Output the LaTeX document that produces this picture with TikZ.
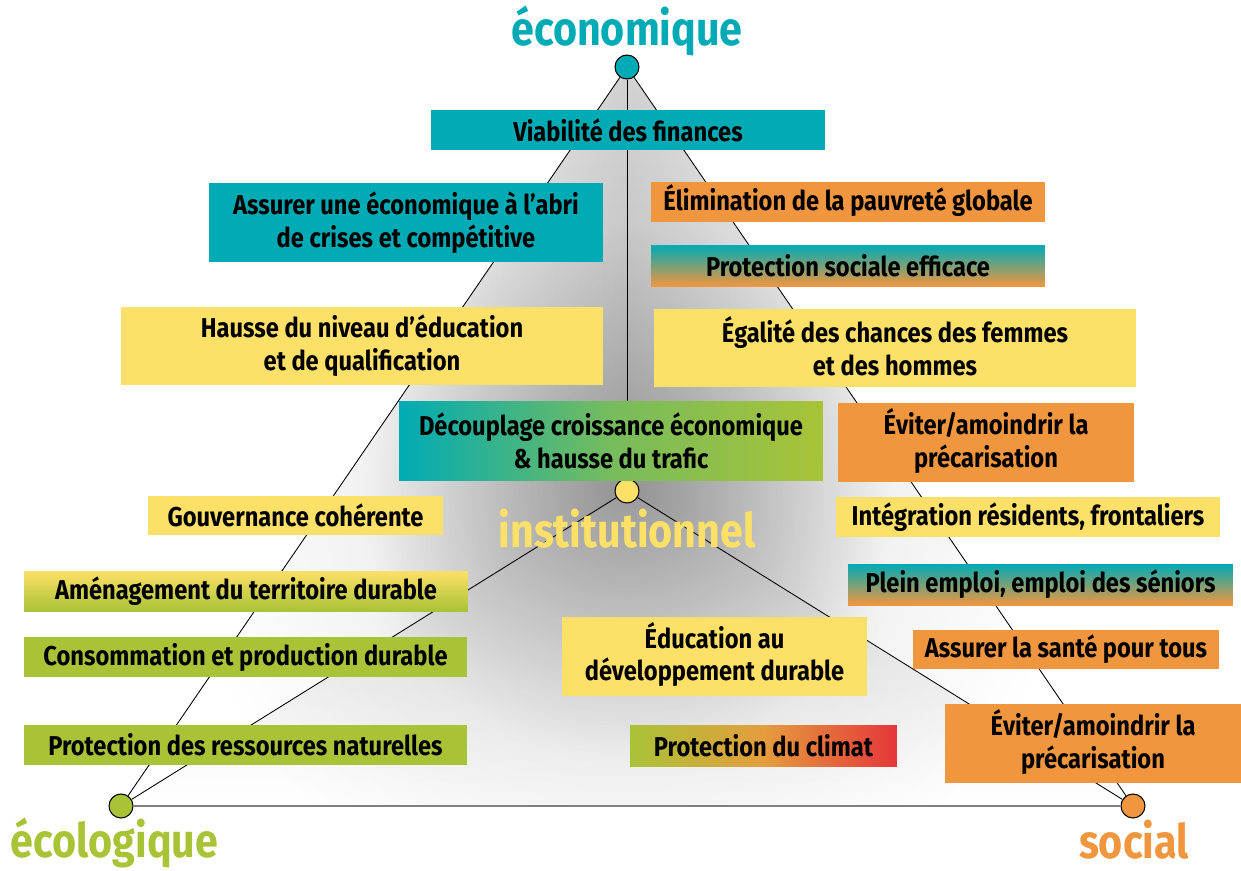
\documentclass[tikz,border=0pt]{standalone}
\usepackage{fontspec}
\setmainfont{Fira Sans}[FakeStretch=0.87]
\usetikzlibrary{fadings,backgrounds}

\definecolor{petrol}{RGB}{0,171,181}
\definecolor{apricot}{RGB}{240,150,62}
\definecolor{butter}{RGB}{253,224,103}
\definecolor{lime}{RGB}{169,195,55}
\definecolor{signalred}{RGB}{229,54,58}

% accented capital that does not push the first line down
\newcommand{\lowcap}[1]{\smash{#1}}

% grey of the pyramid, dark around the inner corner
\pgfdeclareradialshading{hollow}{\pgfpoint{0bp}{0bp}}{color(0bp)=(gray!62); color(7bp)=(gray!38); color(15bp)=(gray!10); color(25bp)=(white); color(50bp)=(white)}
\tikzfading[name=toridgeright, left color=transparent!100, right color=transparent!0, middle color=transparent!100]
\tikzfading[name=toridgeleft, left color=transparent!0, right color=transparent!100, middle color=transparent!100]
\tikzfading[name=fromtop, top color=transparent!0, bottom color=transparent!100]

\tikzset{
  box/.style={inner sep=0pt, align=center, minimum height=0.8cm, font=\bfseries\fontsize{15.5}{18.7}\selectfont},
  twoline/.style={box, minimum height=1.57cm},
  corner/.style={circle, draw=black, line width=0.6pt, minimum size=0.48cm, inner sep=0pt},
  edge/.style={line width=0.5pt},
  groundline/.style={line width=1.1pt, draw=gray},
  pole/.style={inner sep=0pt, anchor=base, font=\bfseries\fontsize{27}{27}\selectfont}
}

\begin{document}
\begin{tikzpicture}[x=0.02cm, y=-0.02cm]
\useasboundingbox (0,0) rectangle (1241,870);

% corners
\node[corner, fill=petrol] (econ) at (627,67) {};
\node[corner, fill=lime] (ecol) at (121,806) {};
\node[corner, fill=apricot] (soc) at (1133,806) {};
\node[corner, fill=butter] (inst) at (627,491) {};

\draw[edge] (econ) -- (ecol);
\draw[edge] (econ) -- (soc);
\draw[edge] (econ) -- (inst);
\draw[edge] (inst) -- (ecol);
\draw[edge] (inst) -- (soc);
\draw[groundline] (ecol) -- (soc);

% faces
\begin{pgfonlayer}{background}
  \begin{scope}
    \clip (econ.center) -- (ecol.center) -- (soc.center) -- cycle;
    \shade[shading=hollow] (inst.center) circle (9cm);
  \end{scope}
  \fill[black, fill opacity=0.17, path fading=toridgeright] (econ.center) -- (ecol.center) -- (inst.center) -- cycle;
  \fill[black, fill opacity=0.17, path fading=toridgeleft] (econ.center) -- (inst.center) -- (soc.center) -- cycle;
  \fill[black, fill opacity=0.12, path fading=fromtop] (inst.center) -- (ecol.center) -- (soc.center) -- cycle;
\end{pgfonlayer}

% economy
\node[box, fill=petrol, minimum width=7.88cm] (viab) at (628,130) {Viabilité des finances};
\node[twoline, fill=petrol, minimum width=7.88cm] (abri) at (406,222.5) {Assurer une économique à l’abri\\de crises et compétitive};
\node[twoline, fill=butter, minimum width=9.64cm] (hausse) at (362,346) {Hausse du niveau d’éducation\\et de qualification};
\node[twoline, left color=petrol, right color=lime, middle color=lime!70!petrol, minimum width=8.48cm] (decoup) at (611,441) {Découplage croissance économique\\\& hausse du trafic};

% social
\node[box, fill=apricot, minimum width=7.88cm] (pauv) at (848,202) {\lowcap{É}limination de la pauvreté globale};
\node[box, top color=petrol, bottom color=apricot, minimum width=7.88cm, minimum height=0.82cm] (protsoc) at (848,265.5) {Protection sociale efficace};
\node[twoline, fill=butter, minimum width=9.64cm] (egal) at (895,348) {\lowcap{É}galité des chances des femmes\\et des hommes};
\node[twoline, fill=apricot, minimum width=5.92cm] (prec) at (986,442.5) {\lowcap{É}viter/amoindrir la\\précarisation};
\node[box, fill=butter, minimum width=7.68cm] (integ) at (1028,517) {Intégration résidents, frontaliers};
\node[box, top color=petrol, bottom color=apricot, minimum width=7.7cm, minimum height=0.82cm] (plein) at (1040.5,584.5) {Plein emploi, emploi des séniors};
\node[box, fill=apricot, minimum width=6.12cm, minimum height=0.78cm] (sante) at (1066,649.5) {Assurer la santé pour tous};
\node[twoline, fill=apricot, minimum width=5.92cm] (precbis) at (1093,743.5) {\lowcap{É}viter/amoindrir la\\précarisation};

% ecology
\node[box, fill=butter, minimum width=5.9cm, minimum height=0.78cm] (gouv) at (295.5,515.5) {Gouvernance cohérente};
\node[box, top color=butter, bottom color=lime, minimum width=8.88cm] (amen) at (246,591) {Aménagement du territoire durable};
\node[box, fill=lime, minimum width=8.86cm] (conso) at (245.5,657) {Consommation et production durable};
\node[box, fill=lime, minimum width=8.86cm] (ress) at (245.5,745) {Protection des ressources naturelles};
\node[twoline, fill=butter, minimum width=6.1cm] (educ) at (714.5,656.5) {\lowcap{É}ducation au\\développement durable};
\node[box, left color=lime, right color=signalred, middle color=apricot!85!lime, minimum width=5.34cm, minimum height=0.82cm] (climat) at (763.5,745.5) {Protection du climat};

% poles
\node[pole, text=petrol] (econlabel) at (627,45) {économique};
\node[pole, text=butter] (instlabel) at (627,547) {institutionnel};
\node[pole, text=lime] (ecollabel) at (114.5,857) {écologique};
\node[pole, text=apricot] (soclabel) at (1134,858) {social};
\end{tikzpicture}
\end{document}
